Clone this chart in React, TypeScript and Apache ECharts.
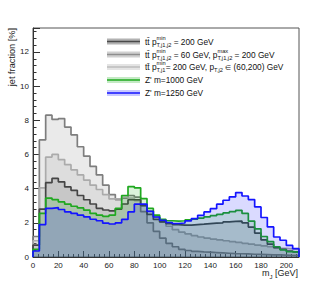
import React, { useEffect, useRef } from "react";
import * as echarts from "echarts";

// ---- data (jet fraction in %, 5 GeV bins from 0 to 210 GeV) ----
const binEdges = [0, 5, 10, 15, 20, 25, 30, 35, 40, 45, 50, 55, 60, 65, 70, 75, 80, 85, 90, 95, 100, 105, 110, 115, 120, 125, 130, 135, 140, 145, 150, 155, 160, 165, 170, 175, 180, 185, 190, 195, 200, 205, 210];

const ttPt200 = [0.7, 2.8, 4.35, 4.6, 4.4, 4.1, 3.9, 3.6, 3.35, 3.1, 2.85, 2.75, 2.7, 2.8, 3.1, 3.35, 3.35, 3.0, 2.5, 2.2, 2.05, 1.95, 1.9, 1.87, 1.87, 1.9, 1.92, 1.95, 1.98, 2.0, 2.05, 2.08, 2.1, 2.0, 1.75, 1.4, 1.0, 0.75, 0.55, 0.45, 0.35, 0.3];
const ttPt60to200 = [1.2, 6.85, 8.3, 8.05, 8.1, 7.6, 7.15, 6.45, 5.9, 5.3, 4.8, 4.2, 3.65, 3.35, 3.45, 3.6, 3.5, 2.65, 2.0, 1.5, 1.1, 0.8, 0.6, 0.45, 0.38, 0.33, 0.3, 0.28, 0.26, 0.24, 0.22, 0.2, 0.19, 0.18, 0.16, 0.15, 0.14, 0.13, 0.12, 0.11, 0.1, 0.1];
const ttPt200Mixed = [0.95, 4.05, 5.85, 6.0, 5.7, 5.4, 5.1, 4.8, 4.5, 4.2, 3.95, 3.65, 3.4, 3.4, 3.5, 3.45, 3.3, 3.0, 2.7, 2.35, 2.05, 1.8, 1.6, 1.45, 1.35, 1.25, 1.17, 1.1, 1.05, 1.0, 0.95, 0.9, 0.85, 0.8, 0.75, 0.7, 0.65, 0.6, 0.55, 0.5, 0.47, 0.44];
const zp1000 = [0.45, 2.55, 3.45, 3.36, 3.22, 3.09, 2.97, 2.87, 2.74, 2.55, 2.45, 2.38, 2.45, 2.85, 3.6, 4.12, 4.05, 3.42, 2.84, 2.45, 2.2, 2.12, 2.1, 2.12, 2.17, 2.22, 2.28, 2.35, 2.42, 2.5, 2.58, 2.65, 2.73, 2.55, 2.1, 1.65, 1.2, 0.9, 0.6, 0.42, 0.32, 0.28];
const zp1250 = [0.35, 1.9, 2.85, 2.89, 2.78, 2.64, 2.55, 2.45, 2.35, 2.21, 2.12, 1.98, 1.93, 2.0, 2.2, 2.64, 3.09, 3.1, 2.67, 2.34, 2.15, 2.02, 1.96, 1.99, 2.11, 2.24, 2.44, 2.64, 2.83, 3.09, 3.32, 3.52, 3.77, 3.57, 3.36, 2.93, 2.31, 1.76, 1.17, 0.98, 0.68, 0.49];

const xTickInterval = 20;
const yTickInterval = 2;
const xMax = 210;
const yMax = 13.4;

const FONT = '"Liberation Sans", Arial, Helvetica, sans-serif';

type Part = string | { sup?: string; sub?: string } | { text: string; scale: number };

let measureCtx: CanvasRenderingContext2D | null = null;
function measure(text: string, size: number): number {
  if (!measureCtx) measureCtx = document.createElement("canvas").getContext("2d");
  if (!measureCtx) return text.length * size * 0.55;
  measureCtx.font = `${size}px "Liberation Sans", Arial, sans-serif`;
  return measureCtx.measureText(text).width;
}

function partsWidth(parts: Part[], size: number, small: number): number {
  let w = 0;
  for (const p of parts) {
    if (typeof p === "string") w += measure(p, size);
    else if ("text" in p) w += measure(p.text, size * p.scale);
    else w += Math.max(p.sup ? measure(p.sup, small) : 0, p.sub ? measure(p.sub, small) : 0);
  }
  return w;
}

function partsElements(x0: number, y: number, parts: Part[], size: number, small: number, color: string) {
  const els: any[] = [];
  let x = x0;
  const txt = (tx: number, ty: number, t: string, fs: number) => ({
    type: "text",
    x: tx,
    y: ty,
    silent: true,
    style: { text: t, fontSize: fs, fontFamily: FONT, fill: color, align: "left", verticalAlign: "middle", textAlign: "left", textVerticalAlign: "middle" },
  });
  for (const p of parts) {
    if (typeof p === "string") {
      els.push(txt(x, y, p, size));
      x += measure(p, size);
    } else if ("text" in p) {
      els.push(txt(x, y, p.text, size * p.scale));
      x += measure(p.text, size * p.scale);
    } else {
      let w = 0;
      if (p.sup) {
        els.push(txt(x, y - size * 0.45, p.sup, small));
        w = Math.max(w, measure(p.sup, small));
      }
      if (p.sub) {
        els.push(txt(x, y + size * 0.4, p.sub, small));
        w = Math.max(w, measure(p.sub, small));
      }
      x += w;
    }
  }
  return els;
}

function histData(values: number[]) {
  const pts: number[][] = [[binEdges[0], 0]];
  values.forEach((v, i) => pts.push([binEdges[i], v]));
  pts.push([binEdges[values.length], values[values.length - 1]]);
  pts.push([binEdges[values.length], 0]);
  return pts;
}

const seriesDefs = [
  { name: "tt60", values: ttPt60to200, line: "#7e7e7e", fill: "rgba(150,150,150,0.28)", z: 2 },
  { name: "ttMixed", values: ttPt200Mixed, line: "#ababab", fill: "rgba(150,150,150,0.22)", z: 3 },
  { name: "tt200", values: ttPt200, line: "#454545", fill: "rgba(80,80,80,0.22)", z: 4 },
  { name: "zp1000", values: zp1000, line: "#1fa81f", fill: "rgba(0,170,0,0.20)", z: 5 },
  { name: "zp1250", values: zp1250, line: "#1414ff", fill: "rgba(0,0,255,0.21)", z: 6 },
];

const legendRows: { parts: Part[]; line: string; band: string }[] = [
  { parts: ["tt\u0304 p", { sup: "min", sub: "T,j1,j2" }, " = 200 GeV"], line: "#4a4a4a", band: "#b2b2b2" },
  { parts: ["tt\u0304 p", { sup: "min", sub: "T,j1,j2" }, " = 60 GeV, p", { sup: "max", sub: "T,j1,j2" }, " = 200 GeV"], line: "#8e8e8e", band: "#d0d0d0" },
  { parts: ["tt\u0304 p", { sup: "min", sub: "T,j1" }, "= 200 GeV, p", { sub: "T,j2" }, " ", { text: "\u2208", scale: 0.8 }, " (60,200) GeV"], line: "#bdbdbd", band: "#e4e4e4" },
  { parts: ["Z' m=1000 GeV"], line: "#1fa81f", band: "#c4eac4" },
  { parts: ["Z' m=1250 GeV"], line: "#1414ff", band: "#c8c8ff" },
];

export default function App() {
  const ref = useRef<HTMLDivElement>(null);
  useEffect(() => {
    if (!ref.current) return;
    const chart = echarts.init(ref.current, null, { renderer: "svg" });

    const graphic: any[] = [];
    // legend
    const rowY = [41.5, 54.5, 67, 80, 93];
    const symX = 107;
    const symW = 33;
    const textX = 145;
    legendRows.forEach((r, i) => {
      const y = rowY[i];
      graphic.push({ type: "rect", silent: true, shape: { x: symX, y: y - 3, width: symW, height: 6 }, style: { fill: r.band } });
      graphic.push({ type: "line", silent: true, shape: { x1: symX, y1: y, x2: symX + symW, y2: y }, style: { stroke: r.line, lineWidth: 1.6 } });
      graphic.push(...partsElements(textX, y, r.parts, 8.3, 5.7, "#111"));
    });
    // y axis title
    graphic.push({
      type: "text",
      x: 12,
      y: 28,
      rotation: Math.PI / 2,
      silent: true,
      style: { text: "jet fraction [%]", fontSize: 9.2, fontFamily: FONT, fill: "#222", align: "right", verticalAlign: "middle", textAlign: "right", textVerticalAlign: "middle" },
    });
    // x axis title
    const xParts: Part[] = ["m", { sub: "J" }, " [GeV]"];
    const xw = partsWidth(xParts, 9, 6);
    graphic.push(...partsElements(298 - xw, 273, xParts, 9, 6, "#222"));

    const axisCommon = {
      type: "value" as const,
      axisLine: { show: true, lineStyle: { color: "#333", width: 1 } },
      splitLine: { show: false },
      axisLabel: { fontSize: 8, color: "#222", fontFamily: FONT, showMaxLabel: false },
    };

    chart.setOption({
      animation: false,
      backgroundColor: "#ffffff",
      grid: { left: 33, right: 33, top: 28, bottom: 30, show: true, borderColor: "#555", borderWidth: 1, backgroundColor: "transparent" },
      xAxis: {
        ...axisCommon,
        min: 0,
        max: xMax,
        interval: xTickInterval,
        axisTick: { inside: true, length: 6, lineStyle: { color: "#333" } },
        minorTick: { show: true, splitNumber: 5, length: 3, lineStyle: { color: "#333" } },
        axisLabel: { ...axisCommon.axisLabel, margin: 4 },
      },
      yAxis: {
        ...axisCommon,
        min: 0,
        max: yMax,
        interval: yTickInterval,
        axisTick: { inside: true, length: 7, lineStyle: { color: "#333" } },
        minorTick: { show: true, splitNumber: 5, length: 3.5, lineStyle: { color: "#333" } },
        axisLabel: { ...axisCommon.axisLabel, margin: 4 },
      },
      series: seriesDefs.map((s) => ({
        type: "line",
        name: s.name,
        step: "end",
        symbol: "none",
        silent: true,
        z: s.z,
        data: histData(s.values),
        lineStyle: { color: s.line, width: 1.7 },
        areaStyle: { color: s.fill, origin: "start" },
      })),
      graphic,
    });
    return () => chart.dispose();
  }, []);
  return <div ref={ref} style={{ position: "fixed", left: 0, top: 0, width: 332, height: 287, background: "#fff" }} />;
}
